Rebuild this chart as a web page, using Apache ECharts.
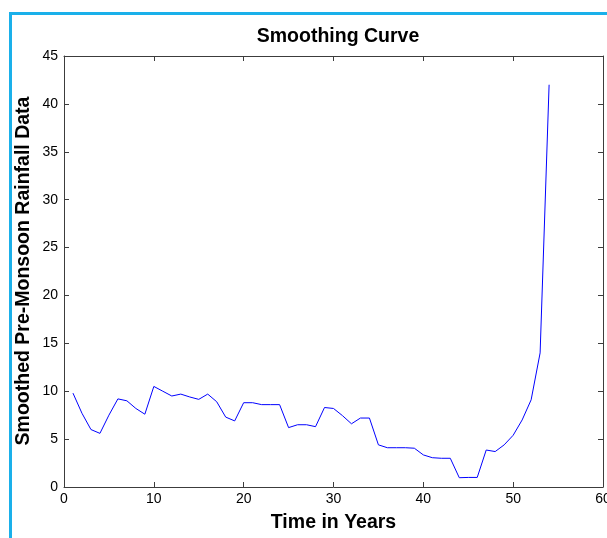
<!DOCTYPE html>
<html>
<head>
<meta charset="utf-8">
<script src="https://cdn.jsdelivr.net/npm/echarts@6/dist/echarts.min.js"></script>
<style>
  html, body { margin: 0; padding: 0; background: #fff; }
  #frame { position: absolute; left: 9px; top: 12px; width: 610px; height: 540px;
           border-left: 3px solid #1ab0ea; border-top: 3px solid #1ab0ea; }
  #chart { position: absolute; left: 0; top: 0; width: 607px; height: 538px; }
</style>
</head>
<body>
<div id="frame"></div>
<div id="chart"></div>
<script>
// years 1..54
var years = [];
for (var i = 1; i <= 54; i++) years.push(i);

var rainfall = [
  9.8, 7.7, 6.0, 5.6, 7.5, 9.2, 9.0, 8.2, 7.6, 10.5,
  10.0, 9.5, 9.7, 9.4, 9.15, 9.7, 8.9, 7.3, 6.9, 8.8,
  8.8, 8.6, 8.6, 8.6, 6.2, 6.5, 6.5, 6.3, 8.3, 8.2,
  7.45, 6.6, 7.2, 7.2, 4.4, 4.1, 4.1, 4.1, 4.05, 3.35,
  3.06, 3.0, 3.0, 0.97, 1.0, 1.0, 3.86, 3.7, 4.4, 5.4,
  7.0, 9.1, 14.0, 42.0
];

var xTicks = [0, 10, 20, 30, 40, 50, 60];
var yTicks = [0, 5, 10, 15, 20, 25, 30, 35, 40, 45];

var points = years.map(function (y, i) { return [y, rainfall[i]]; });

var font = 'Liberation Sans, Arial, sans-serif';
var axisLine = { show: true, onZero: false, lineStyle: { color: '#3c3c3c', width: 1 } };
var tick = { show: true, inside: true, length: 5, lineStyle: { color: '#3c3c3c' } };

var myChart = echarts.init(document.getElementById('chart'));
var option = {
  animation: false,
  backgroundColor: 'transparent',
  title: {
    text: 'Smoothing Curve',
    left: 333, top: 22, textAlign: 'center',
    textStyle: { fontFamily: font, fontWeight: 'bold', fontSize: 19.5, color: '#000' }
  },
  grid: { left: 64, right: 4, top: 56, bottom: 51, outerBoundsMode: 'none' },
  xAxis: [{
    type: 'value', min: xTicks[0], max: xTicks[xTicks.length - 1], interval: 10, position: 'bottom',
    name: 'Time in Years', nameLocation: 'middle', nameGap: 26,
    nameTextStyle: { fontFamily: font, fontWeight: 'bold', fontSize: 19.5, color: '#000' },
    axisLine: axisLine, axisTick: tick, splitLine: { show: false },
    axisLabel: { fontFamily: font, fontSize: 14, color: '#000', margin: 5 }
  }, {
    type: 'value', min: xTicks[0], max: xTicks[xTicks.length - 1], interval: 10, position: 'top',
    axisLine: axisLine, axisTick: tick, splitLine: { show: false },
    axisLabel: { show: false }
  }],
  yAxis: [{
    type: 'value', min: yTicks[0], max: yTicks[yTicks.length - 1], interval: 5, position: 'left',
    axisLine: axisLine, axisTick: tick, splitLine: { show: false },
    axisLabel: { fontFamily: font, fontSize: 14, color: '#000', margin: 6 }
  }, {
    type: 'value', min: yTicks[0], max: yTicks[yTicks.length - 1], interval: 5, position: 'right',
    axisLine: axisLine, axisTick: tick, splitLine: { show: false },
    axisLabel: { show: false }
  }],
  graphic: [{
    type: 'text', rotation: Math.PI / 2, x: 24, y: 271,
    style: {
      text: 'Smoothed Pre-Monsoon Rainfall Data',
      font: 'bold 19.5px ' + font, fill: '#000',
      textAlign: 'center', textVerticalAlign: 'middle'
    }
  }],
  series: [{
    type: 'line', data: points, showSymbol: false,
    lineStyle: { color: '#0000ff', width: 1 }
  }]
};
myChart.setOption(option);
</script>
</body>
</html>
